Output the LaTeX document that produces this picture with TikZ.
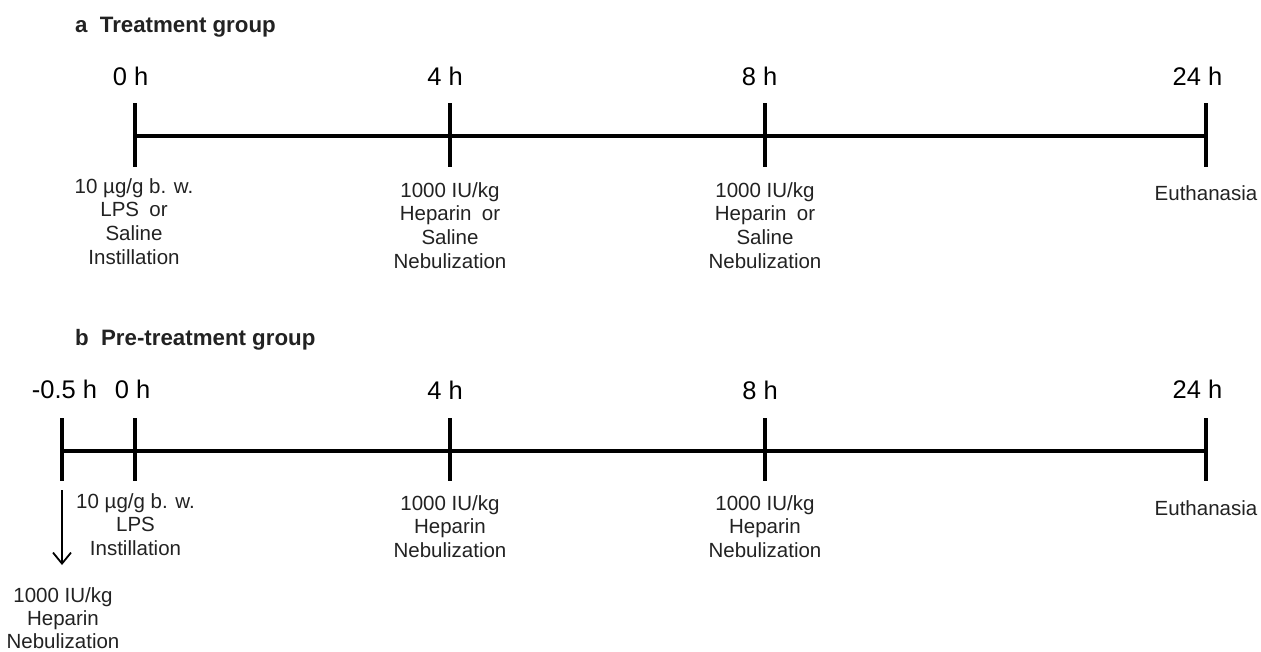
\documentclass[tikz,border=0pt]{standalone}
\usepackage{fontspec}
\setmainfont{Liberation Sans}
\usetikzlibrary{arrows.meta}
\definecolor{txt}{HTML}{222222}
\begin{document}
\begin{tikzpicture}[x=1pt,y=-1pt,
  axisline/.style={line width=4pt},
  tickline/.style={line width=3.6pt},
  hour/.style={font=\fontsize{25.5}{30}\selectfont, anchor=base, inner sep=0pt, text=black},
  desc/.style={font=\fontsize{20.5}{23.8}\selectfont, align=center, anchor=north, inner sep=0pt, text=txt},
  paneltitle/.style={font=\bfseries\fontsize{22.3}{26}\selectfont, anchor=base west, inner sep=0pt, text=txt},
  downarrow/.style={line width=1.8pt, -{Straight Barb[length=11pt,width=18pt,line width=1.8pt]}}]
\useasboundingbox (0,0) rectangle (1261,651);

% ---------- panel a ----------
\node[paneltitle] (ta) at (75,32) {a\hspace{0.55em}Treatment group};
\coordinate (a0) at (135,136);
\coordinate (a4) at (450,136);
\coordinate (a8) at (765,136);
\coordinate (a24) at (1206,136);
\draw[axisline] (a0) -- (a24);
\foreach \p in {a0,a4,a8,a24}
  \draw[tickline] ([yshift=33pt]\p) -- ([yshift=-31pt]\p);

\node[hour] (ha0) at (130.5,85) {0 h};
\node[hour] (ha4) at (445,85) {4 h};
\node[hour] (ha8) at (759.5,85) {8 h};
\node[hour] (ha24) at (1197.5,85) {24 h};

\node[desc] (da0) at (134,178) {10 µg/g b. w.\\LPS\hspace{0.5em}or\\Saline\\Instillation};
\node[desc] (da4) at (450,182) {1000 IU/kg\\Heparin\hspace{0.5em}or\\Saline\\Nebulization};
\node[desc] (da8) at (765,182) {1000 IU/kg\\Heparin\hspace{0.5em}or\\Saline\\Nebulization};
\node[desc] (da24) at (1206,185) {Euthanasia};

% ---------- panel b ----------
\node[paneltitle] (tb) at (75,345) {b\hspace{0.55em}Pre-treatment group};
\coordinate (bm) at (62,451);
\coordinate (b0) at (135,451);
\coordinate (b4) at (450,451);
\coordinate (b8) at (765,451);
\coordinate (b24) at (1206,451);
\draw[axisline] (bm) -- (b24);
\foreach \p in {bm,b0,b4,b8,b24}
  \draw[tickline] ([yshift=33pt]\p) -- ([yshift=-30pt]\p);

\node[hour] (hbm) at (64.5,398) {-0.5 h};
\node[hour] (hb0) at (132.5,398) {0 h};
\node[hour] (hb4) at (445,399.5) {4 h};
\node[hour] (hb8) at (760,399.5) {8 h};
\node[hour] (hb24) at (1197.5,398) {24 h};

\node[desc] (db0) at (135.5,493) {10 µg/g b. w.\\LPS\\Instillation};
\node[desc] (db4) at (450,495) {1000 IU/kg\\Heparin\\Nebulization};
\node[desc] (db8) at (765,495) {1000 IU/kg\\Heparin\\Nebulization};
\node[desc] (db24) at (1206,500) {Euthanasia};

\coordinate (arrs) at (62,490);
\coordinate (arre) at (62,565);
\node[desc, font=\fontsize{20.5}{23.3}\selectfont] (dbm) at (63,587) {1000 IU/kg\\Heparin\\Nebulization};
\draw[downarrow] (arrs) -- (arre);
\end{tikzpicture}
\end{document}
